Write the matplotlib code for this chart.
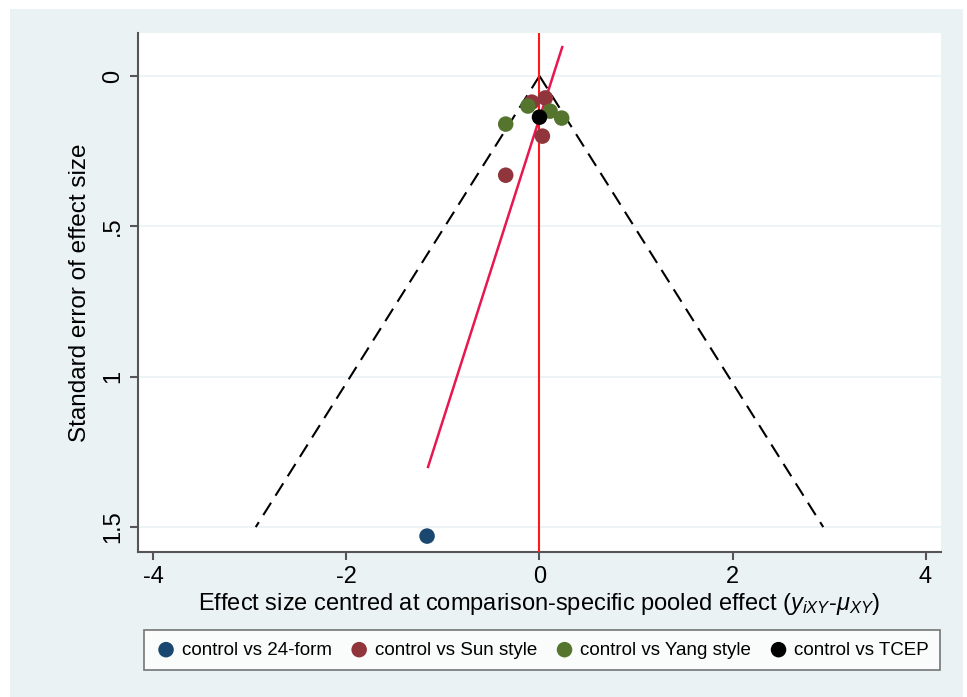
import numpy as np
import matplotlib
matplotlib.use("Agg")
import matplotlib.pyplot as plt
from matplotlib.patches import Rectangle

plt.rcParams['font.family'] = ['Liberation Sans', 'DejaVu Sans']
plt.rcParams['mathtext.fontset'] = 'custom'
plt.rcParams['mathtext.rm'] = 'Liberation Sans'
plt.rcParams['mathtext.it'] = 'Liberation Sans:italic'

# centred effect sizes and their standard errors, per comparison
groups = ["control vs 24-form", "control vs Sun style",
          "control vs Yang style", "control vs TCEP"]
colors = ["#1a476f", "#90353b", "#55752f", "#000000"]
effect = [
    [-1.165],
    [-0.35, 0.03, -0.08, 0.06],
    [-0.35, -0.12, 0.11, 0.23],
    [0.0],
]
stderr = [
    [1.53],
    [0.33, 0.20, 0.087, 0.073],
    [0.16, 0.10, 0.117, 0.14],
    [0.137],
]

# regression line (centred effect against standard error)
line_se = [-0.096, 1.30]
line_intercept = 0.14
line_slope = -0.996

se_max = 1.5
z = 1.96

fig = plt.figure(figsize=(9.67, 6.97), dpi=100)
fig.patch.set_facecolor("white")
fig.add_artist(Rectangle((10 / 967, 0), 953 / 967, 1 - 9 / 697,
                         transform=fig.transFigure, facecolor="#eaf2f3",
                         edgecolor="none", zorder=-10))

ax = fig.add_axes([0.1427, 0.208, 0.8304, 0.7447])
ax.set_facecolor("white")

yt = [0, 0.5, 1, 1.5]
for t in yt:
    ax.axhline(t, color="#eaf2f3", lw=1.2, zorder=0)

# pseudo confidence funnel
se_grid = np.array([0, se_max])
ax.plot(-z * se_grid, se_grid, color="black", ls=(0, (7, 4)), lw=1.5, zorder=2)
ax.plot(z * se_grid, se_grid, color="black", ls=(0, (7, 4)), lw=1.5, zorder=2)

ax.axvline(0, color="#ff1a1a", lw=1.5, zorder=3)

line_x = [line_intercept + line_slope * s for s in line_se]
ax.plot(line_x, line_se, color="#e8174f", lw=1.8, zorder=3)

for name, c, xs, ys in zip(groups, colors, effect, stderr):
    ax.scatter(xs, ys, s=125, color=c, edgecolors="none", label=name, zorder=4)

ax.set_xlim(-4.16, 4.16)
ax.set_ylim(1.583, -0.143)
ax.set_xticks([-4, -2, 0, 2, 4])
ax.set_xticklabels(["-4", "-2", "0", "2", "4"])
ax.set_yticks(yt)
ax.set_yticklabels(["0", ".5", "1", "1.5"], rotation=90, va="center")

for s in ["top", "right"]:
    ax.spines[s].set_visible(False)
for s in ["left", "bottom"]:
    ax.spines[s].set_color("#555555")
    ax.spines[s].set_linewidth(1.5)
ax.tick_params(axis="both", colors="#555555", labelcolor="black",
               length=6, width=1.5, labelsize=17, pad=4)

ax.set_xlabel(r"Effect size centred at comparison-specific pooled effect ($y_{iXY}$-$\mu_{XY}$)",
              fontsize=17, labelpad=2)
ax.set_ylabel("Standard error of effect size", fontsize=17.5, labelpad=8)

leg = fig.legend(loc="center", bbox_to_anchor=(0.5605, 0.0674), ncol=4,
                 fontsize=13.5, frameon=True, fancybox=False, edgecolor="#555555",
                 handletextpad=0.25, columnspacing=0.85, borderpad=0.6,
                 handlelength=1.2, markerscale=1.0)
leg.get_frame().set_linewidth(1.2)

fig.savefig("out.png", dpi=100)
